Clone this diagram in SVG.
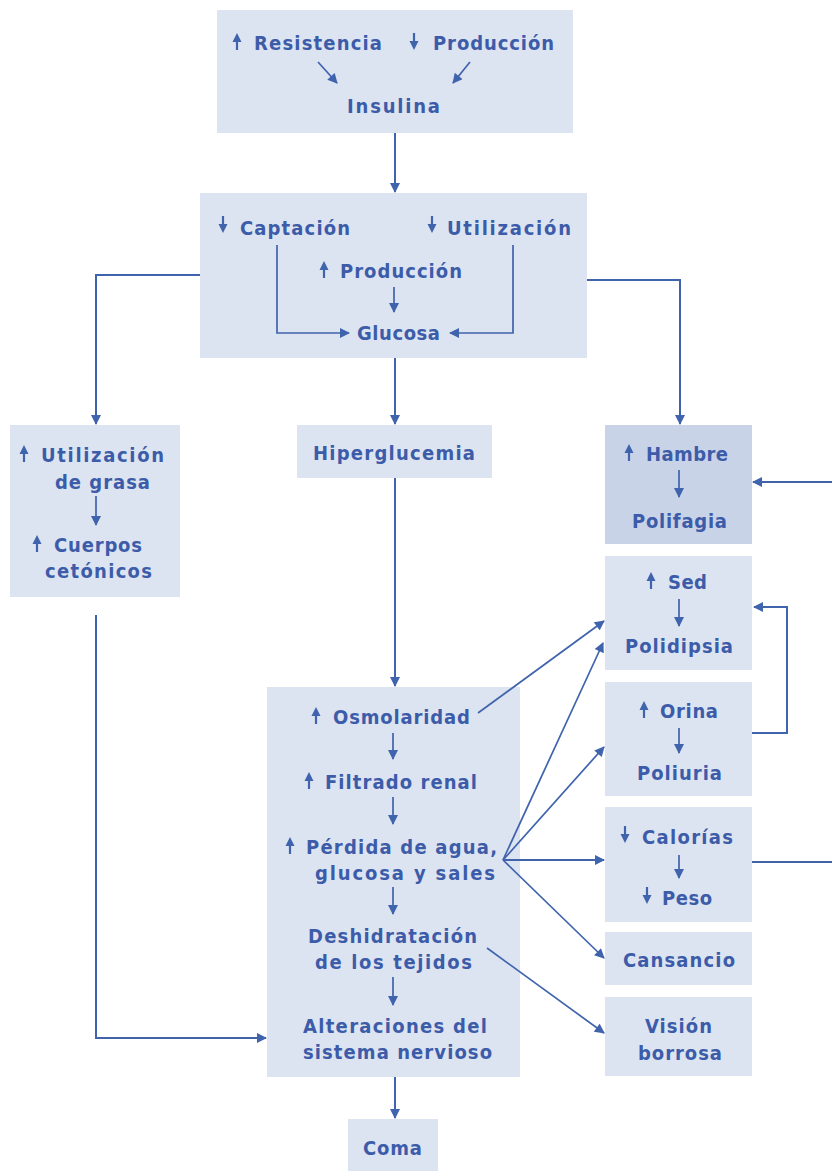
<svg xmlns="http://www.w3.org/2000/svg" xmlns:xlink="http://www.w3.org/1999/xlink" width="832" height="1171" viewBox="0 0 832 1171">
<style>
.box{fill:#dde4f1}
.box2{fill:#c9d3e8}
.t{font-family:"DejaVu Sans Condensed","DejaVu Sans",sans-serif;font-size:20px;font-weight:bold;fill:#3c5ca9}
.c{fill:none;stroke:#3f63ad;stroke-width:2}
.ci{fill:none;stroke:#3f63ad;stroke-width:1.7}
.g{fill:#3f63ad}
</style>
<defs>
<marker id="ah" viewBox="0 0 10 10" refX="9" refY="5" markerWidth="12" markerHeight="10" markerUnits="userSpaceOnUse" orient="auto"><path d="M0,0 L10,5 L0,10 Z" fill="#3f63ad"/></marker>
<symbol id="up" overflow="visible"><path d="M0,0 L-4.5,9 L4.5,9 Z" class="g"/><path d="M0,8 V17" stroke="#3f63ad" stroke-width="2.2"/></symbol>
<symbol id="dn" overflow="visible"><path d="M0,17 L-4.5,8 L4.5,8 Z" class="g"/><path d="M0,0 V9" stroke="#3f63ad" stroke-width="2.2"/></symbol>
</defs>
<rect width="832" height="1171" fill="#ffffff"/>

<g id="n-insulina">
<rect class="box" x="217" y="10" width="356" height="123"/>
<use href="#up" x="237" y="33"/>
<text class="t" x="254" y="50" textLength="128" lengthAdjust="spacing">Resistencia</text>
<use href="#dn" x="414" y="33"/>
<text class="t" x="433" y="50" textLength="121" lengthAdjust="spacing">Producción</text>
<path class="ci" d="M318,62 L337,83" marker-end="url(#ah)"/>
<path class="ci" d="M470,62 L453,83" marker-end="url(#ah)"/>
<text class="t" x="347" y="113" textLength="93" lengthAdjust="spacing">Insulina</text>
</g>

<g id="n-glucosa">
<rect class="box" x="200" y="193" width="387" height="165"/>
<use href="#dn" x="223" y="216"/>
<text class="t" x="240" y="235" textLength="110" lengthAdjust="spacing">Captación</text>
<use href="#dn" x="432" y="216"/>
<text class="t" x="447" y="235" textLength="124" lengthAdjust="spacing">Utilización</text>
<use href="#up" x="324" y="261"/>
<text class="t" x="340" y="278" textLength="122" lengthAdjust="spacing">Producción</text>
<path class="ci" d="M394,287 V312" marker-end="url(#ah)"/>
<text class="t" x="357" y="340" textLength="83" lengthAdjust="spacing">Glucosa</text>
<path class="ci" d="M277,245 V333 H349" marker-end="url(#ah)"/>
<path class="ci" d="M513,245 V333 H450" marker-end="url(#ah)"/>
</g>

<g id="n-grasa">
<rect class="box" x="10" y="425" width="170" height="172"/>
<use href="#up" x="24" y="445"/>
<text class="t" x="41" y="462" textLength="123" lengthAdjust="spacing">Utilización</text>
<text class="t" x="55" y="489" textLength="95" lengthAdjust="spacing">de grasa</text>
<path class="ci" d="M96,496 V525" marker-end="url(#ah)"/>
<use href="#up" x="37" y="535"/>
<text class="t" x="54" y="552" textLength="88" lengthAdjust="spacing">Cuerpos</text>
<text class="t" x="45" y="578" textLength="107" lengthAdjust="spacing">cetónicos</text>
</g>

<g id="n-hiper">
<rect class="box" x="297" y="425" width="195" height="53"/>
<text class="t" x="313" y="460" textLength="162" lengthAdjust="spacing">Hiperglucemia</text>
</g>

<g id="n-hambre">
<rect class="box2" x="605" y="425" width="147" height="119"/>
<use href="#up" x="629" y="444"/>
<text class="t" x="646" y="461" textLength="82" lengthAdjust="spacing">Hambre</text>
<path class="ci" d="M679,470 V497" marker-end="url(#ah)"/>
<text class="t" x="632" y="528" textLength="95" lengthAdjust="spacing">Polifagia</text>
</g>

<g id="n-sed">
<rect class="box" x="605" y="556" width="147" height="114"/>
<use href="#up" x="651" y="572"/>
<text class="t" x="668" y="589" textLength="39" lengthAdjust="spacing">Sed</text>
<path class="ci" d="M679,599 V626" marker-end="url(#ah)"/>
<text class="t" x="625" y="653" textLength="108" lengthAdjust="spacing">Polidipsia</text>
</g>

<g id="n-orina">
<rect class="box" x="605" y="682" width="147" height="114"/>
<use href="#up" x="644" y="701"/>
<text class="t" x="660" y="718" textLength="58" lengthAdjust="spacing">Orina</text>
<path class="ci" d="M679,728 V753" marker-end="url(#ah)"/>
<text class="t" x="637" y="780" textLength="85" lengthAdjust="spacing">Poliuria</text>
</g>

<g id="n-calorias">
<rect class="box" x="605" y="807" width="147" height="115"/>
<use href="#dn" x="625" y="826"/>
<text class="t" x="642" y="844" textLength="91" lengthAdjust="spacing">Calorías</text>
<path class="ci" d="M679,855 V878" marker-end="url(#ah)"/>
<use href="#dn" x="647" y="887"/>
<text class="t" x="662" y="905" textLength="50" lengthAdjust="spacing">Peso</text>
</g>

<g id="n-cansancio">
<rect class="box" x="605" y="932" width="147" height="53"/>
<text class="t" x="623" y="967" textLength="112" lengthAdjust="spacing">Cansancio</text>
</g>

<g id="n-vision">
<rect class="box" x="605" y="997" width="147" height="79"/>
<text class="t" x="645" y="1033" textLength="67" lengthAdjust="spacing">Visión</text>
<text class="t" x="638" y="1060" textLength="84" lengthAdjust="spacing">borrosa</text>
</g>

<g id="n-central">
<rect class="box" x="267" y="687" width="253" height="390"/>
<use href="#up" x="316" y="707"/>
<text class="t" x="333" y="724" textLength="137" lengthAdjust="spacing">Osmolaridad</text>
<path class="ci" d="M393,733 V759" marker-end="url(#ah)"/>
<use href="#up" x="309" y="772"/>
<text class="t" x="325" y="789" textLength="152" lengthAdjust="spacing">Filtrado renal</text>
<path class="ci" d="M393,797 V824" marker-end="url(#ah)"/>
<use href="#up" x="290" y="837"/>
<text class="t" x="306" y="854" textLength="191" lengthAdjust="spacing">Pérdida de agua,</text>
<text class="t" x="315" y="880" textLength="180" lengthAdjust="spacing">glucosa y sales</text>
<path class="ci" d="M393,887 V914" marker-end="url(#ah)"/>
<text class="t" x="308" y="943" textLength="169" lengthAdjust="spacing">Deshidratación</text>
<text class="t" x="315" y="969" textLength="157" lengthAdjust="spacing">de los tejidos</text>
<path class="ci" d="M393,977 V1005" marker-end="url(#ah)"/>
<text class="t" x="303" y="1033" textLength="184" lengthAdjust="spacing">Alteraciones del</text>
<text class="t" x="303" y="1059" textLength="189" lengthAdjust="spacing">sistema nervioso</text>
</g>

<g id="n-coma">
<rect class="box" x="348" y="1119" width="90" height="52"/>
<text class="t" x="363" y="1155" textLength="59" lengthAdjust="spacing">Coma</text>
</g>

<g id="connectors">
<path class="c" d="M395,133 V192" marker-end="url(#ah)"/>
<path class="c" d="M200,275 H96 V424" marker-end="url(#ah)"/>
<path class="c" d="M587,280 H680 V424" marker-end="url(#ah)"/>
<path class="c" d="M395,358 V424" marker-end="url(#ah)"/>
<path class="c" d="M395,478 V686" marker-end="url(#ah)"/>
<path class="ci" d="M478,713 L604,621" marker-end="url(#ah)"/>
<path class="ci" d="M503,860 L603,643" marker-end="url(#ah)"/>
<path class="ci" d="M503,860 L604,747" marker-end="url(#ah)"/>
<path class="c" d="M503,860 H604" marker-end="url(#ah)"/>
<path class="ci" d="M503,860 L604,958" marker-end="url(#ah)"/>
<path class="ci" d="M487,948 L604,1033" marker-end="url(#ah)"/>
<path class="c" d="M96,615 V1038 H266" marker-end="url(#ah)"/>
<path class="c" d="M395,1077 V1118" marker-end="url(#ah)"/>
<path class="c" d="M752,862 H845 V482 H753" marker-end="url(#ah)"/>
<path class="c" d="M752,733 H787 V607 H754" marker-end="url(#ah)"/>
</g>
</svg>
